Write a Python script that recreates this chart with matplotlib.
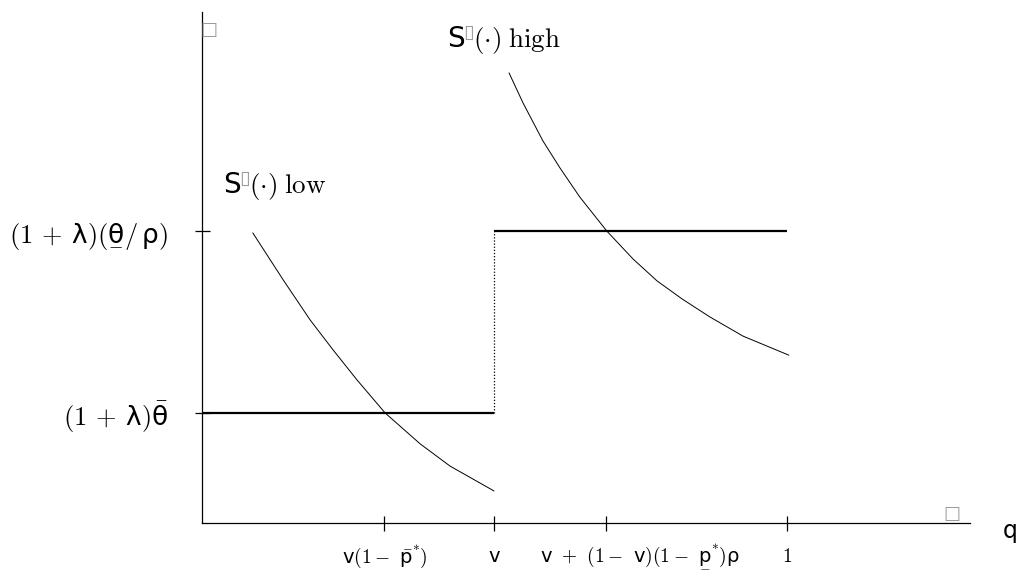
import numpy as np
import matplotlib
matplotlib.use("Agg")
import matplotlib.pyplot as plt

plt.rcParams['mathtext.fontset'] = 'custom'
plt.rcParams['mathtext.rm'] = 'cmr10'
plt.rcParams['mathtext.it'] = 'DejaVu Sans'
plt.rcParams['mathtext.sf'] = 'DejaVu Sans'
plt.rcParams['font.family'] = ['DejaVu Sans']

# q positions (1 = full market)
q_ticks = [0.312, 0.5, 0.691, 1.0]
q_labels = [r'$\mathsf{v}(1 -\ \bar{\mathsf{p}}^{*})$', r'$\mathsf{v}$',
            r'$\mathsf{v}\ +\ (1 -\ \mathsf{v})(1 -\ \underset{-}{\mathsf{p}}^{*})\rho$',
            r'$1$']
q_label_shift = [0, 0, 34, 0]   # pixels, third label sits right of its tick

# price levels
levels = [0.377, 1.0]
level_labels = [r'$(1\,+\,\lambda)\bar{\theta}$', r'$(1\,+\,\lambda)(\underset{-}{\theta}/\,\rho)$']
v = 0.5

# S(.) low curve
low_q = [0.087, 0.139, 0.185, 0.224, 0.265, 0.313, 0.373, 0.424, 0.499]
low_s = [0.993, 0.832, 0.695, 0.593, 0.490, 0.377, 0.271, 0.195, 0.110]

# S(.) high curve
high_q = [0.525, 0.549, 0.583, 0.612, 0.646, 0.692, 0.737, 0.778, 0.821, 0.868, 0.925, 1.003]
high_s = [1.541, 1.438, 1.308, 1.216, 1.116, 1.000, 0.904, 0.829, 0.767, 0.706, 0.640, 0.575]

W, H = 1022, 577
fig = plt.figure(figsize=(W / 100, H / 100), dpi=100)
ax = fig.add_axes([202 / W, (H - 523) / H, (970 - 202) / W, (523 - 12) / H])
ax.set_xlim(0, 1.313)
ax.set_ylim(0, 1.75)
for s in ['top', 'right']:
    ax.spines[s].set_visible(False)
for s in ['left', 'bottom']:
    ax.spines[s].set_linewidth(0.9)

# step (supply) lines
ax.plot([0, v], [levels[0], levels[0]], color='black', lw=1.6, solid_capstyle='butt')
ax.plot([v, 1.0], [levels[1], levels[1]], color='black', lw=1.6, solid_capstyle='butt')
ax.plot([v, v], [levels[0], levels[1]], color='black', lw=0.9, ls=(0, (1, 1.5)))

# demand-like curves
ax.plot(low_q, low_s, color='black', lw=0.7)
ax.plot(high_q, high_s, color='black', lw=0.7)

ax.set_yticks(levels)
ax.set_yticklabels(level_labels, fontsize=19)
ax.tick_params(axis='y', direction='inout', length=10.8, width=0.9, pad=19)

ax.set_xticks(q_ticks)
ax.set_xticklabels([])
ax.tick_params(axis='x', direction='inout', length=10.8, width=0.9)
for q, lab, dx in zip(q_ticks, q_labels, q_label_shift):
    ax.annotate(lab, xy=(q, 0), xycoords=('data', 'axes fraction'),
                xytext=(dx, -33), textcoords='offset pixels',
                ha='center', va='center', fontsize=14)

# axis name and the missing-glyph boxes
ax.annotate('q', xy=(1, 0), xycoords='axes fraction', xytext=(40, -8),
            textcoords='offset pixels', ha='center', va='center', fontsize=17)
ax.annotate('\u25a1', xy=(1, 0), xycoords='axes fraction', xytext=(-18, 0),
            textcoords='offset pixels', ha='center', va='bottom', fontsize=13, color='#9a9a9a')
ax.annotate('\u25a1', xy=(0, 1), xycoords='axes fraction', xytext=(7, -9),
            textcoords='offset pixels', ha='center', va='top', fontsize=13, color='#9a9a9a')


def curve_label(x, y, word):
    ax.annotate('S', xy=(x, y), xycoords='data', ha='left', va='baseline', fontsize=20)
    ax.annotate('\u25af', xy=(x, y), xycoords='data', xytext=(16, 9),
                textcoords='offset pixels', ha='left', va='baseline', fontsize=14, color='#9a9a9a')
    ax.annotate(r'$(\cdot)\;\mathrm{' + word + '}$', xy=(x, y), xycoords='data',
                xytext=(26, 0), textcoords='offset pixels', ha='left', va='baseline',
                fontsize=19.5, math_fontfamily='cm')


curve_label(0.0359, 1.130, 'low')
curve_label(0.419, 1.630, 'high')

fig.savefig('out.png', dpi=100)
